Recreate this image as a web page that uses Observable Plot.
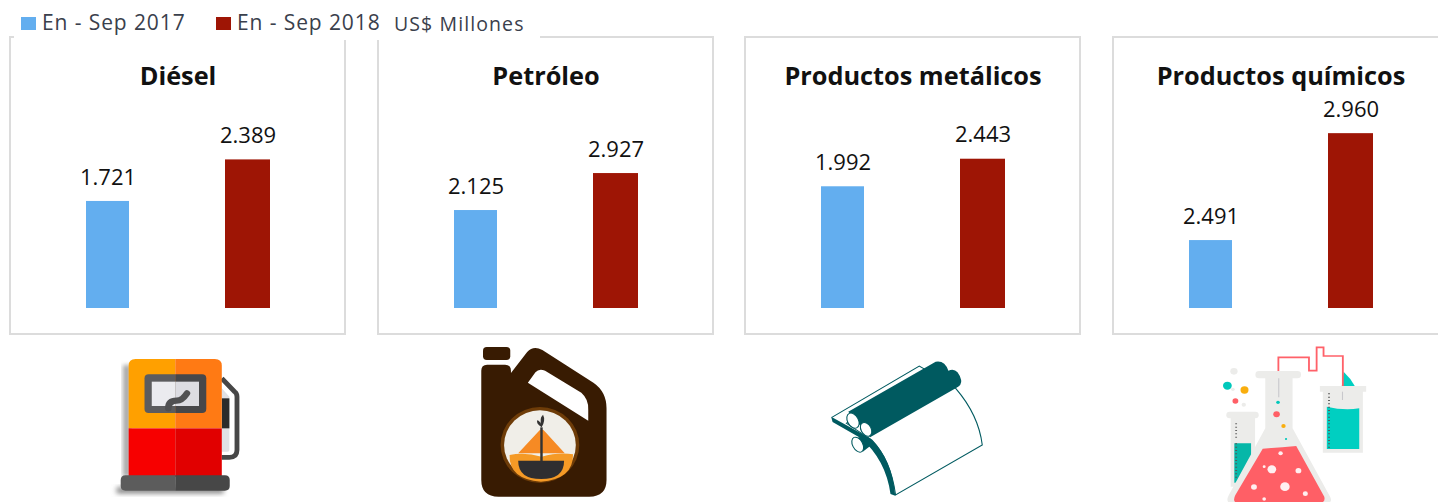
<!DOCTYPE html>
<html><head><meta charset="utf-8">
<script src="https://cdn.jsdelivr.net/npm/d3@7"></script>
<script src="https://cdn.jsdelivr.net/npm/@observablehq/plot@0.6"></script>
<style>
html,body{margin:0;padding:0;background:#fff;overflow:hidden}
#page{position:relative;width:1438px;height:502px;overflow:hidden;font-family:"Open Sans",sans-serif}
.panel{position:absolute;top:36px;width:333px;height:295px;border:2px solid #dcdcdc;background:#fff}
.panel svg{position:absolute;left:-1px;top:-1px;display:block;max-width:none !important;width:336px !important;height:298px !important}
#mask{position:absolute;left:14px;top:0;width:526px;height:40px;background:#fff}
.lg{position:absolute;white-space:nowrap}
.sw{position:absolute;width:15px;height:13px}
.icon{position:absolute;top:340px;height:162px;filter:blur(0.5px)}
</style></head><body><div id="page"></div>
<script>
const titles = ["Diésel", "Petróleo", "Productos metálicos", "Productos químicos"];
const periods = ["En - Sep 2017", "En - Sep 2018"];
const values2017 = [1721, 2125, 1992, 2491];
const values2018 = [2389, 2927, 2443, 2960];
const domainMin = [0, 0, 0, 2193];
const domainMax = [2910, 3926, 2962, 2987];
const lefts = [9, 376.5, 744, 1112];
const colors = ["#63aeef", "#9e1505"];
const unit = "US$ Millones";

const fmt = d3.formatLocale({decimal: ",", thousands: ".", grouping: [3], currency: ["", ""]}).format(",d");
const page = document.getElementById("page");

titles.forEach((title, i) => {
  const first = [{period: periods[0], v: values2017[i]}];
  const second = [{period: periods[1], v: values2018[i]}];
  const rows = [...first, ...second];
  const panel = document.createElement("div");
  panel.className = "panel";
  panel.style.left = lefts[i] + "px";
  const chart = Plot.plot({
    width: 336, height: 298,
    marginTop: 90, marginBottom: 27, marginLeft: 27.5, marginRight: 28.5,
    style: {background: "transparent", overflow: "visible"},
    x: {domain: periods, axis: null, paddingInner: 0.68, paddingOuter: 0.34},
    y: {domain: [domainMin[i], domainMax[i]], axis: null, clamp: true},
    color: {domain: periods, range: colors},
    marks: [
      Plot.barY(first, {x: "period", y1: domainMin[i], y2: "v", fill: "period", insetLeft: 1, insetRight: 1}),
      Plot.barY(second, {x: "period", y1: domainMin[i], y2: "v", fill: "period"}),
      Plot.text(rows, {x: "period", y: "v", text: d => fmt(d.v), dy: -24, fontSize: 22, fill: "#111", lineAnchor: "middle", fontFamily: "'Open Sans',sans-serif"}),
      Plot.text([title], {frameAnchor: "top", dy: -51, text: d => d, fontSize: 25.3, fontWeight: 700, fill: "#111", lineAnchor: "middle", fontFamily: "'Open Sans',sans-serif"})
    ]
  });
  panel.appendChild(chart);
  page.appendChild(panel);
});

const mask = document.createElement("div"); mask.id = "mask"; page.appendChild(mask);
const addSw = (x, c) => { const s = document.createElement("div"); s.className = "sw"; s.style.left = x + "px"; s.style.top = "17px"; s.style.background = c; page.appendChild(s); };
const addTx = (x, top, t, size, col, sp) => { const s = document.createElement("div"); s.className = "lg"; s.textContent = t; s.style.cssText += `left:${x}px;top:${top}px;font-size:${size}px;color:${col};letter-spacing:${sp}px`; page.appendChild(s); };
addSw(21, colors[0]); addSw(216, colors[1]);
addTx(42, 8, periods[0], 21, "#3a404c", 0.9);
addTx(237, 8, periods[1], 21, "#3a404c", 0.9);
addTx(394, 10, unit, 19.5, "#3a404c", 1.1);

const icons = `
<svg class="icon" style="left:100px;width:540px" viewBox="0 0 1565 486" preserveAspectRatio="none">
 <defs><filter id="b" x="-30%" y="-30%" width="160%" height="160%"><feGaussianBlur stdDeviation="7"/></filter></defs>
 <rect x="68" y="75" width="18" height="335" fill="#999" filter="url(#b)"/>
 <rect x="48" y="440" width="310" height="22" fill="#999" filter="url(#b)"/>
 <path d="M353 115L390 155Q397 160 397 170V330Q397 352 375 352H353" fill="none" stroke="#474747" stroke-width="14"/>
 <path d="M353 145L375 170V330Q375 335 370 335H353Z" fill="#e0e0e4"/>
 <rect x="353" y="175" width="22" height="90" fill="#2b2b2b"/>
 <path d="M83 265V77Q83 57 103 57H218V265Z" fill="#ffa000"/>
 <path d="M218 265V57H333Q353 57 353 77V265Z" fill="#ff7a14"/>
 <rect x="83" y="265" width="135" height="145" fill="#f70000"/>
 <rect x="218" y="265" width="135" height="145" fill="#e10000"/>
 <path d="M218 103H141Q129 103 129 115V207Q129 219 141 219H218Z" fill="#5c5c5e"/>
 <path d="M218 103H296Q308 103 308 115V207Q308 219 296 219H218Z" fill="#47474a"/>
 <path d="M150 125H218V198H150Z" fill="#ebebef"/><path d="M218 125H287V198H218Z" fill="#dcdce2"/>
 <path d="M198 205Q198 182 222 182Q238 182 252 160" fill="none" stroke="#505052" stroke-width="19" stroke-linecap="round"/>
 <path d="M218 406H74Q60 406 60 420V438Q60 452 74 452H218Z" fill="#5c5c5c"/>
 <path d="M218 406H362Q376 406 376 420V438Q376 452 362 452H218Z" fill="#474747"/>
 <rect x="1110" y="21" width="79" height="39" rx="11" fill="#381b02"/>
 <path d="M1105 92Q1105 74 1122 74H1174Q1191 74 1191 92V99L1238 36Q1256 15 1282 30L1430 128Q1468 155 1468 205V420Q1468 470 1418 470H1155Q1105 470 1105 420Z" fill="#381b02"/>
 <path d="M1240 128L1262 97Q1272 84 1290 92L1395 158Q1417 178 1415 210V242Z" fill="#fff"/>
 <circle cx="1275" cy="315" r="114" fill="#6e3c08"/><circle cx="1275" cy="315" r="104" fill="#f0eee8"/>
 <path d="M1270 275Q1280 262 1290 275L1347 340H1212Z" fill="#f68a24"/>
 <path d="M1187 345Q1230 335 1280 350Q1330 335 1371 343Q1372 418 1278 425Q1185 418 1187 345Z" fill="#f59a26"/>
 <path d="M1212 362H1345Q1345 417 1279 417Q1212 417 1212 362Z" fill="#2f2e30"/>
 <rect x="1276" y="262" width="7" height="102" fill="#333"/>
 <path d="M1280 262Q1262 250 1268 240Q1278 246 1280 258Q1272 235 1284 224Q1292 240 1280 262Z" fill="#333"/>
</svg>
<svg class="icon" style="left:810px;width:570px" viewBox="0 0 1565 486" preserveAspectRatio="none">
 <path d="M60 232L300 78L335 100" fill="none" stroke="#005a60" stroke-width="3"/>
 <path d="M400 145Q463 225 473 315L235 465Q222 360 170 300L100 250L300 100Z" fill="#fff" stroke="#005a60" stroke-width="3"/>
 <path d="M58 230L62 246L140 295Q208 360 221 462L234 467Q225 355 165 295Z" fill="#005a60"/>
 <path d="M105 215L345 65Q370 60 380 92Q405 80 415 120Q418 135 400 145L165 292L125 240Z" fill="#005a60"/>
 <path d="M125 296L150 285L175 310L145 335Z" fill="#005a60"/>
 <ellipse cx="118" cy="242" rx="15" ry="24" transform="rotate(-25 118 242)" fill="#fff" stroke="#005a60" stroke-width="3"/>
 <ellipse cx="154" cy="268" rx="14" ry="22" transform="rotate(-25 154 268)" fill="#fff" stroke="#005a60" stroke-width="3"/>
 <ellipse cx="131" cy="314" rx="14" ry="24" transform="rotate(-25 131 314)" fill="#fff" stroke="#005a60" stroke-width="3"/>
 <path d="M1465 95Q1485 115 1497 140H1460Z" fill="#00cfc1"/>
 <path d="M1286 95V52H1370V92H1391V22H1410V48H1463V140" fill="none" stroke="#ff6169" stroke-width="5"/>
 <circle cx="1164" cy="94" r="10" fill="#ececea"/><circle cx="1146" cy="137" r="12" fill="#00c8bb"/>
 <circle cx="1193" cy="150" r="11" fill="#f9ae0e"/><circle cx="1168" cy="183" r="8" fill="#ff5f66"/><circle cx="1191" cy="194" r="6" fill="#ececea"/><circle cx="1161" cy="148" r="5" fill="#ececea"/>
 <rect x="1143" y="215" width="89" height="20" rx="9" fill="#ececea"/>
 <path d="M1155 230H1222V400L1175 440H1155Z" fill="#ececea"/>
 <path d="M1165 310H1211V375L1172 428H1165Z" fill="#06b7a8"/>
 <path d="M1170 250V300" stroke="#666" stroke-width="5" stroke-dasharray="3 7"/>
 <path d="M1170 310V420" stroke="#555" stroke-width="5" stroke-dasharray="3 7"/>
 <rect x="1223" y="93" width="125" height="22" rx="10" fill="#ececea"/>
 <path d="M1250 110H1325V265L1428 470Q1436 486 1420 490H1155Q1140 486 1150 465L1250 265Z" fill="#ececea"/>
 <path d="M1243 326Q1290 322 1335 318L1412 470Q1416 486 1400 490H1175Q1158 486 1168 465Z" fill="#ff5f66"/>
 <path d="M1287 115V172" stroke="#c8c8cc" stroke-width="3"/>
 <circle cx="1285" cy="187" r="5" fill="#00c8bb"/><circle cx="1281" cy="223" r="9" fill="#ff5f66"/><circle cx="1300" cy="258" r="6" fill="#f9ae0e"/><circle cx="1307" cy="297" r="3" fill="#00c8bb"/>
 <g fill="#fff" fill-opacity=".9"><circle cx="1292" cy="340" r="6"/><circle cx="1268" cy="388" r="12"/><circle cx="1247" cy="380" r="4"/><circle cx="1341" cy="392" r="8"/><circle cx="1219" cy="441" r="8"/><circle cx="1304" cy="440" r="13"/><circle cx="1360" cy="461" r="7"/><circle cx="1247" cy="477" r="5"/></g>
 <path d="M1400 138H1527V155H1518V338H1408V155H1400Z" fill="#ececea"/>
 <path d="M1419 200Q1465 212 1508 205V327H1419Z" fill="#00cfc1"/>
 <path d="M1425 160V325" stroke="#555" stroke-width="5" stroke-dasharray="3 7"/>
 <path d="M1462 155V180" stroke="#c8c8cc" stroke-width="3"/>
</svg>`;
page.insertAdjacentHTML("beforeend", icons);
</script></body></html>
